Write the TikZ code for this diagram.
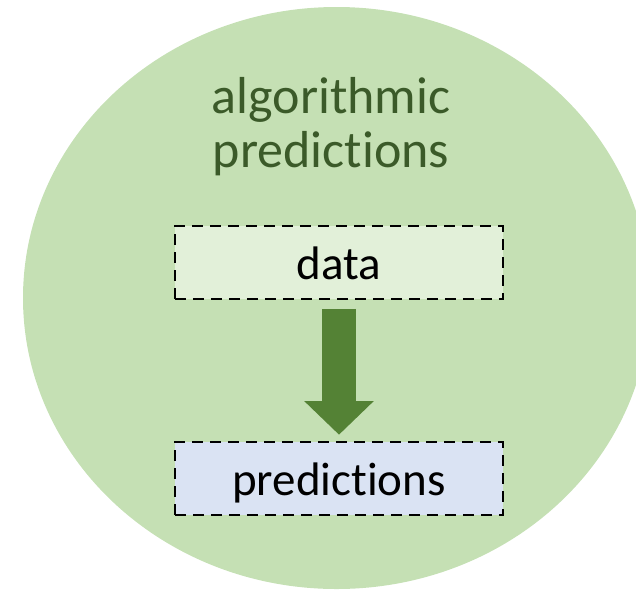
\documentclass[tikz,border=0pt]{standalone}
\usepackage{fontspec}
\setmainfont{Carlito}[Ligatures=NoCommon]
\usetikzlibrary{arrows.meta}
\definecolor{circfill}{HTML}{C5E0B4}
\definecolor{datafill}{HTML}{E2F0D9}
\definecolor{predfill}{HTML}{DAE3F3}
\definecolor{arrowgreen}{HTML}{548235}
\definecolor{titlegreen}{HTML}{3B5A29}
\tikzset{
  boxnode/.style={draw=black, line width=2.4pt, dash pattern=on 11pt off 7pt,
    minimum width=328.5pt, minimum height=73pt, inner sep=0pt,
    text height=34pt, text depth=0pt, font=\fontsize{47}{54}\selectfont},
  titlenode/.style={text=titlegreen, align=center, inner sep=0pt,
    font=\fontsize{52}{54}\selectfont},
  bigarrow/.style={draw=arrowgreen, line width=34pt,
    -{Triangle[length=33.7pt,width=67.7pt]}}
}
\begin{document}
\begin{tikzpicture}[x=1pt,y=-1pt]
\useasboundingbox (0,0) rectangle (636,590);
\clip (0,0) rectangle (636,590);
\fill[circfill] (336.6,298) ellipse [x radius=313.6, y radius=291];
\node[titlenode, anchor=base] (title) at (331,167) {algorithmic\\predictions};
\node[boxnode, fill=datafill] (data) at (339,262.7) {data};
\node[boxnode, fill=predfill] (pred) at (339,478.7) {predictions};
\draw[bigarrow] ([yshift=-8.4pt]data.south) -- ([yshift=6.3pt]pred.north);
\end{tikzpicture}
\end{document}
